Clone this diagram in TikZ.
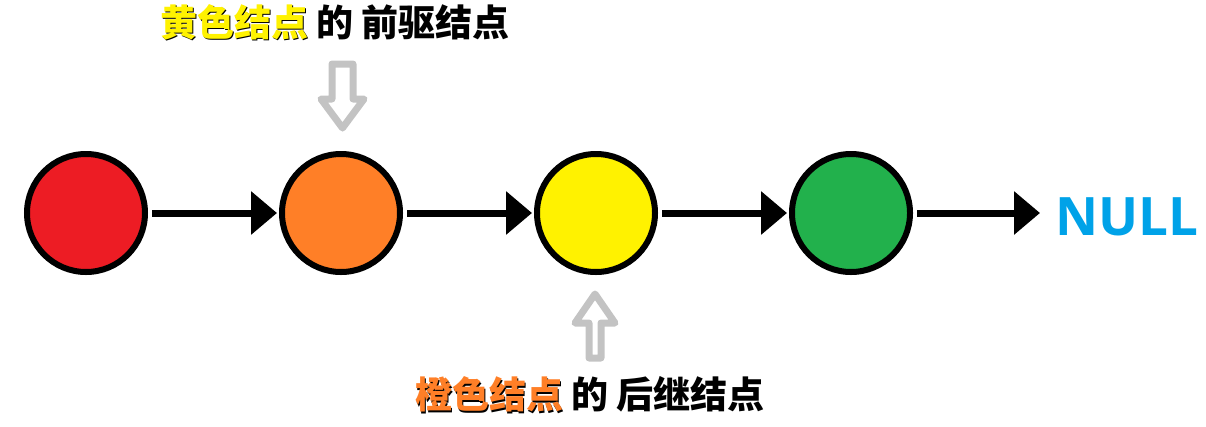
\documentclass[tikz,border=0pt]{standalone}
\usepackage{fontspec}
\setmainfont{Open Sans}
\newfontfamily\cjk{Noto Sans CJK SC}
\usepackage{tikz}
\usetikzlibrary{arrows.meta,positioning}
\definecolor{nred}{HTML}{ED1C24}
\definecolor{norange}{HTML}{FF7F27}
\definecolor{nyellow}{HTML}{FFF200}
\definecolor{ngreen}{HTML}{22B14C}
\definecolor{nullblue}{HTML}{00A2E8}
\definecolor{hintgray}{HTML}{C3C3C3}
\newcommand\shadowed[2]{\rlap{\kern1.5pt\raisebox{-1.5pt}{\color{black}#2}}\textcolor{#1}{#2}}

\begin{document}
\begin{tikzpicture}[x=1pt, y=-1pt,
  nd/.style={circle, draw=black, line width=6pt, minimum size=118pt, inner sep=0pt},
  nx/.style={-{Triangle[length=26pt,width=42pt]}, line width=7pt, shorten <=4pt, shorten >=2pt},
  blk/.style={draw=hintgray, line width=7pt, line join=round},
  lbl/.style={font=\cjk\bfseries\fontsize{37}{40}\selectfont, inner sep=0pt},
]
\useasboundingbox (0,0) rectangle (1206,426);
% the list
\node[nd, fill=nred] (red) at (86,213) {};
\node[nd, fill=norange, right=131pt of red] (orange) {};
\node[nd, fill=nyellow, right=131pt of orange] (yellow) {};
\node[nd, fill=ngreen, right=131pt of yellow] (green) {};
\node[font=\bfseries\fontsize{53}{58}\selectfont, text=nullblue, inner sep=0pt, anchor=west] (null) at (1055,217) {NULL};
\draw[nx] (red) -- (orange);
\draw[nx] (orange) -- (yellow);
\draw[nx] (yellow) -- (green);
\draw[nx, shorten >=15pt] (green) -- (green -| null.west);
% labels and hollow pointers
\node[lbl] (pre) at (335,23) {\shadowed{nyellow}{黄色结点} 的 前驱结点};
\node[lbl] (succ) at (590,395) {\shadowed{norange}{橙色结点} 的 后继结点};
\draw[blk] (332,64) -- (353,64) -- (353,99) -- (364,99) -- (342.5,128) -- (321,99) -- (332,99) -- cycle;
\draw[blk] (589,358) -- (601,358) -- (601,323) -- (615,323) -- (595,294) -- (575,323) -- (589,323) -- cycle;
\end{tikzpicture}
\end{document}
